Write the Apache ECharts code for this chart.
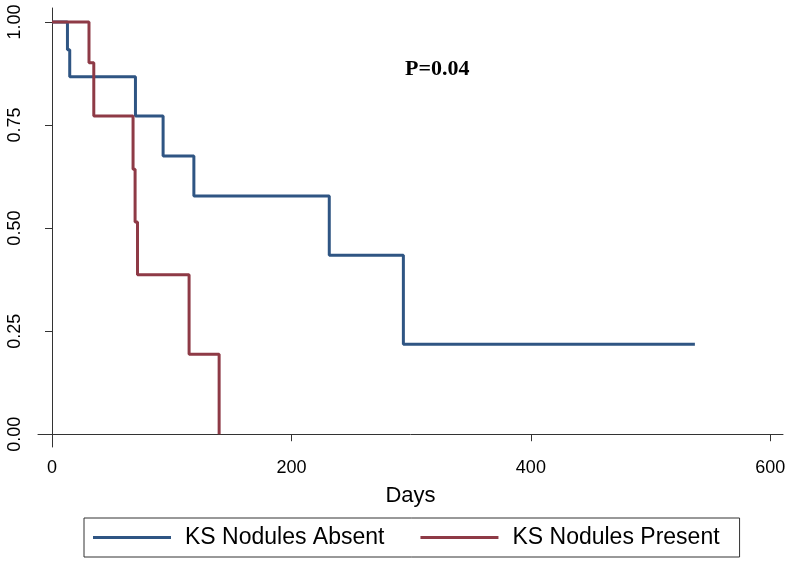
<!DOCTYPE html>
<html>
<head>
<meta charset="utf-8">
<script src="https://cdn.jsdelivr.net/npm/echarts@6/dist/echarts.min.js"></script>
<style>
  html, body { margin: 0; padding: 0; background: #fff; }
  #chart { width: 792px; height: 565px; }
</style>
</head>
<body>
<div id="chart"></div>
<script>
// Kaplan-Meier estimates
var absentDays = [0, 12.9, 14.8, 69.7, 92.8, 118.5, 231.6, 293.5, 537];
var absentSurv = [1.0, 0.933, 0.867, 0.772, 0.675, 0.578, 0.434, 0.218, 0.218];
var presentDays = [0, 30.9, 34.9, 67.7, 69.4, 71.4, 114.5, 139.6];
var presentSurv = [1.0, 0.901, 0.772, 0.643, 0.515, 0.387, 0.194, 0.0];

var xTicks = [0, 200, 400, 600];
var yTicks = [0, 0.25, 0.5, 0.75, 1];
var seriesNames = ['KS Nodules Absent', 'KS Nodules Present'];

function pairs(xs, ys) {
    var out = [];
    for (var i = 0; i < xs.length; i++) out.push([xs[i], ys[i]]);
    return out;
}

var axisColor = '#333';
var myChart = echarts.init(document.getElementById('chart'));

var option = {
    animation: false,
    backgroundColor: '#fff',
    title: {
        text: 'P=0.04',
        left: 405,
        top: 58,
        padding: 0,
        textStyle: { fontFamily: 'Liberation Serif', fontWeight: 'bold', fontSize: 22, color: '#000' }
    },
    grid: { left: 38, right: 9, top: 8, bottom: 118 },
    xAxis: {
        type: 'value',
        min: -11.7,
        max: 610.6,
        name: 'Days',
        nameLocation: 'middle',
        nameGap: 38,
        nameTextStyle: { fontFamily: 'Liberation Sans', fontSize: 22, color: '#000' },
        axisLine: { lineStyle: { color: axisColor, width: 1 } },
        axisTick: { customValues: xTicks, length: 7, lineStyle: { color: axisColor } },
        axisLabel: {
            customValues: xTicks, margin: 12,
            fontFamily: 'Liberation Sans', fontSize: 18, color: '#000'
        },
        splitLine: { show: false }
    },
    yAxis: {
        type: 'value',
        min: -0.031,
        max: 1.034,
        axisLine: { show: true, lineStyle: { color: axisColor, width: 1 } },
        axisTick: { show: true, customValues: yTicks, length: 7, lineStyle: { color: axisColor } },
        axisLabel: {
            customValues: yTicks, rotate: 90, margin: 14,
            fontFamily: 'Liberation Sans', fontSize: 18, color: '#000',
            formatter: function(v) { return v.toFixed(2); }
        },
        splitLine: { show: false }
    },
    legend: {
        data: seriesNames,
        left: 84,
        top: 518,
        icon: 'rect',
        itemWidth: 78,
        itemHeight: 3,
        itemGap: 36,
        padding: [8, 20, 8, 9],
        borderColor: '#333',
        borderWidth: 1,
        textStyle: { fontFamily: 'Liberation Sans', fontSize: 23, color: '#000', padding: [0, 0, 0, 9] }
    },
    series: [{
        name: seriesNames[0],
        type: 'line',
        step: 'end',
        symbol: 'none',
        color: '#2f5583',
        lineStyle: { width: 3, color: '#2f5583' },
        data: pairs(absentDays, absentSurv)
    }, {
        name: seriesNames[1],
        type: 'line',
        step: 'end',
        symbol: 'none',
        color: '#8e3a46',
        lineStyle: { width: 3, color: '#8e3a46' },
        data: pairs(presentDays, presentSurv)
    }]
};

myChart.setOption(option, true);
</script>
</body>
</html>
